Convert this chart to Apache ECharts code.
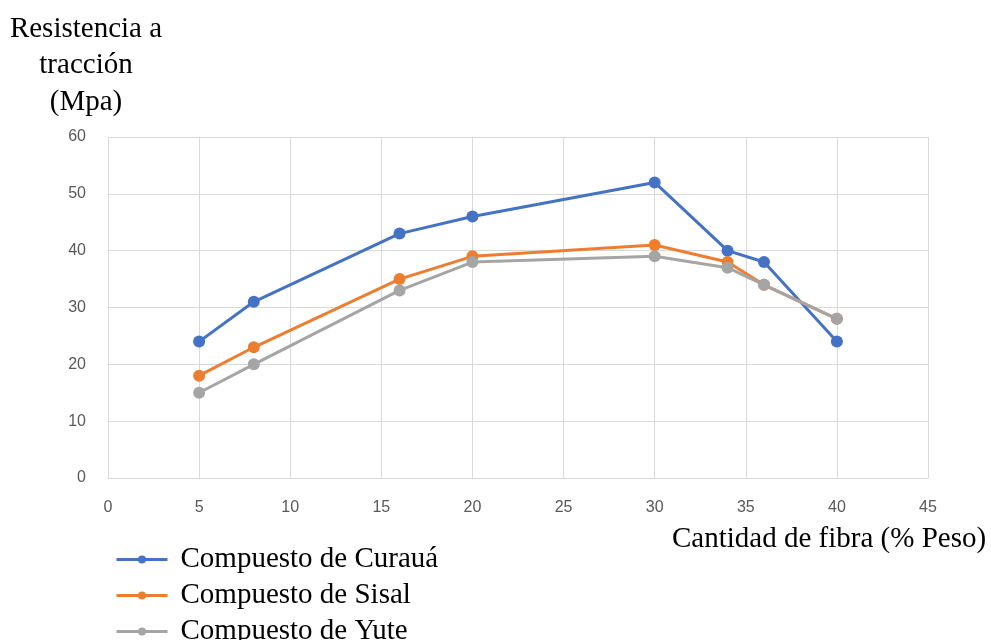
<!DOCTYPE html>
<html><head><meta charset="utf-8">
<script src="https://cdn.jsdelivr.net/npm/echarts@6/dist/echarts.min.js"></script>
<style>html,body{margin:0;padding:0;background:#fff}#c{width:991px;height:640px}</style>
</head><body><div id="c"></div>
<script>
const xValues = [5, 8, 16, 20, 30, 34, 36, 40];
const curaua = [24, 31, 43, 46, 52, 40, 38, 24];
const sisal = [18, 23, 35, 39, 41, 38, 34, 28];
const yute = [15, 20, 33, 38, 39, 37, 34, 28];
const seriesNames = ['Compuesto de Curauá', 'Compuesto de Sisal', 'Compuesto de Yute'];
const yTitle = 'Resistencia a\ntracción\n(Mpa)';
const xTitle = 'Cantidad de fibra (% Peso)';

const pair = arr => xValues.map((x, i) => [x, arr[i]]);
const colors = ['#4472C4', '#ED7D31', '#A5A5A5'];
const serif = '"Liberation Serif", "DejaVu Serif", serif';
const labelFont = '"Liberation Sans Narrow", "Liberation Sans", "Noto Sans", sans-serif';

const chart = echarts.init(document.getElementById('c'));
chart.setOption({
  animation: false,
  color: colors,
  grid: { left: 108, right: 63, top: 137, bottom: 162, containLabel: false },
  graphic: [
    { type: 'text', x: 86, y: 11, style: { text: yTitle, font: '29px ' + serif, fill: '#000', align: 'center', lineHeight: 36.5 } },
    { type: 'text', x: 672, y: 525, style: { text: xTitle, font: '29px ' + serif, fill: '#000' } }
  ],
  xAxis: {
    type: 'value', min: 0, max: 45, interval: 5,
    axisLine: { show: true, lineStyle: { color: '#d9d9d9', width: 1 } },
    axisTick: { show: false },
    splitLine: { show: true, lineStyle: { color: '#d9d9d9', width: 1 } },
    axisLabel: { margin: 22, color: '#595959', fontSize: 16, fontFamily: labelFont }
  },
  yAxis: {
    type: 'value', min: 0, max: 60, interval: 10,
    axisLine: { show: false },
    axisTick: { show: false },
    splitLine: { show: true, lineStyle: { color: '#d9d9d9', width: 1 } },
    axisLabel: { margin: 22, color: '#595959', fontSize: 16, fontFamily: labelFont }
  },
  legend: {
    orient: 'vertical', left: 115, top: 545, height: 130, padding: 0, itemGap: 7, itemWidth: 51, itemHeight: 10,
    lineStyle: { width: 3 },
    textStyle: { fontFamily: serif, fontSize: 29, lineHeight: 29, color: '#000', padding: [0, 0, 0, 8] },
    data: seriesNames
  },
  series: [curaua, sisal, yute].map((arr, i) => ({
    name: seriesNames[i], type: 'line', data: pair(arr),
    symbol: 'circle', symbolSize: 12,
    lineStyle: { width: 3, color: colors[i] },
    itemStyle: { color: colors[i] }
  }))
});
</script></body></html>
